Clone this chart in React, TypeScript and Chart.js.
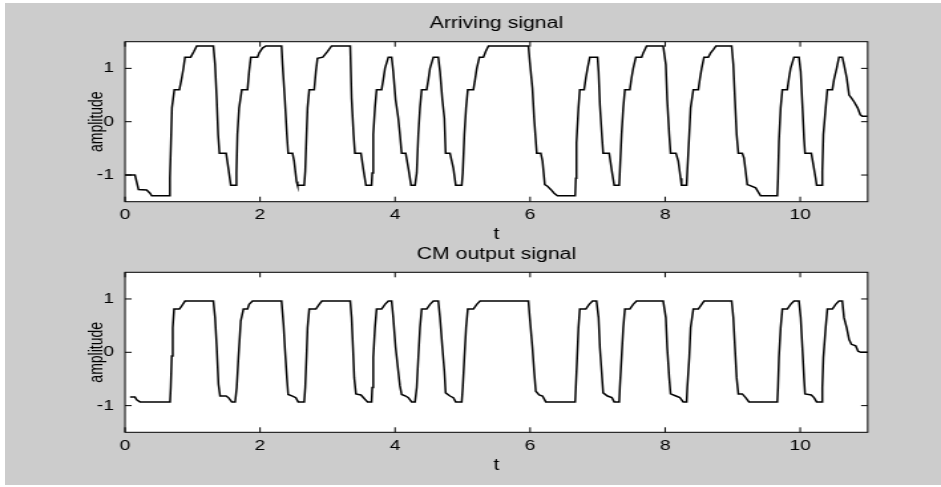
import React, { useEffect, useRef } from "react";
import { Chart, registerables } from "chart.js";

Chart.register(...registerables);

// ---------- data ----------
const ARRIVING_T = [
  0, 0.148, 0.2, 0.32, 0.37, 0.395, 0.657, 0.665, 0.68, 0.695, 0.73, 0.805, 0.84, 0.865, 0.889, 0.973, 1.022, 1.062,
  1.309, 1.334, 1.359, 1.379, 1.399, 1.497, 1.53, 1.566, 1.641, 1.651, 1.665, 1.69, 1.73, 1.814, 1.838, 1.863, 1.962,
  1.987, 2.036, 2.086, 2.318, 2.333, 2.367, 2.397, 2.416, 2.481, 2.505, 2.54, 2.555, 2.654, 2.669, 2.688, 2.703, 2.728,
  2.802, 2.827, 2.851, 2.93, 3.0, 3.059, 3.336, 3.356, 3.385, 3.405, 3.494, 3.534, 3.568, 3.652, 3.662, 3.677, 3.702,
  3.726, 3.8, 3.825, 3.85, 3.9, 3.949, 3.973, 4.008, 4.047, 4.072, 4.097, 4.157, 4.196, 4.236, 4.295, 4.32, 4.344,
  4.369, 4.394, 4.468, 4.493, 4.517, 4.567, 4.64, 4.665, 4.7, 4.73, 4.749, 4.813, 4.863, 4.898, 4.987, 5.002, 5.026,
  5.051, 5.076, 5.16, 5.185, 5.21, 5.249, 5.308, 5.343, 5.383, 5.975, 5.995, 6.034, 6.059, 6.098, 6.158, 6.183, 6.217,
  6.257, 6.306, 6.356, 6.405, 6.667, 6.677, 6.687, 6.716, 6.736, 6.8, 6.825, 6.85, 6.884, 6.998, 7.013, 7.033, 7.062,
  7.082, 7.171, 7.211, 7.245, 7.319, 7.329, 7.354, 7.379, 7.403, 7.477, 7.502, 7.527, 7.566, 7.651, 7.675, 7.725,
  7.971, 8.01, 8.03, 8.06, 8.08, 8.159, 8.194, 8.229, 8.243, 8.318, 8.328, 8.357, 8.377, 8.417, 8.491, 8.516, 8.54,
  8.575, 8.639, 8.674, 8.714, 8.753, 8.985, 9.01, 9.034, 9.059, 9.084, 9.142, 9.167, 9.192, 9.216, 9.241, 9.34, 9.389,
  9.414, 9.661, 9.671, 9.685, 9.71, 9.735, 9.809, 9.834, 9.858, 9.908, 9.982, 10.007, 10.032, 10.056, 10.071, 10.165,
  10.195, 10.229, 10.244, 10.318, 10.328, 10.343, 10.377, 10.402, 10.476, 10.5, 10.54, 10.575, 10.624, 10.649, 10.689,
  10.724, 10.76, 10.8, 10.85, 10.89, 10.92, 11,
];
const ARRIVING_A = [
  -1.0, -1.0, -1.27, -1.28, -1.34, -1.39, -1.39, -1.05, -0.4, 0.26, 0.6, 0.6, 0.82, 1.0, 1.21, 1.21, 1.32, 1.42,
  1.42, 1.07, 0.41, -0.24, -0.59, -0.59, -0.87, -1.19, -1.19, -0.96, -0.24, 0.26, 0.6, 0.6, 0.94, 1.21, 1.21,
  1.29, 1.38, 1.42, 1.42, 1.07, 0.41, -0.24, -0.59, -0.59, -0.74, -1.12, -1.19, -1.19, -0.93, -0.24, 0.26, 0.6,
  0.6, 0.94, 1.19, 1.21, 1.32, 1.42, 1.42, 0.44, -0.24, -0.59, -0.59, -0.93, -1.19, -1.19, -0.96, -0.24, 0.26,
  0.6, 0.6, 0.79, 1.0, 1.21, 1.21, 0.94, 0.41, 0.07, -0.24, -0.59, -0.59, -0.87, -1.19, -1.19, -0.96, -0.24,
  0.26, 0.6, 0.6, 0.79, 1.0, 1.21, 1.21, 0.94, 0.41, 0.07, -0.59, -0.59, -0.87, -1.19, -1.19, -0.96, -0.24,
  0.26, 0.6, 0.6, 0.79, 1.0, 1.21, 1.21, 1.32, 1.42, 1.42, 1.13, 0.63, 0.07, -0.59, -0.59, -0.74, -1.18,
  -1.21, -1.27, -1.34, -1.39, -1.39, -1.06, -0.4, 0.26, 0.6, 0.6, 0.82, 1.0, 1.21, 1.21, 0.94, 0.32, -0.24,
  -0.59, -0.59, -0.93, -1.19, -1.19, -0.93, -0.24, 0.26, 0.6, 0.6, 0.82, 1.0, 1.21, 1.21, 1.29, 1.42,
  1.42, 1.07, 0.41, -0.24, -0.59, -0.59, -0.74, -1.06, -1.19, -1.19, -0.93, -0.24, 0.26, 0.6, 0.6, 0.82, 1.0,
  1.21, 1.21, 1.29, 1.35, 1.42, 1.42, 1.07, 0.41, -0.24, -0.59, -0.59, -0.68, -0.93, -1.18, -1.19, -1.24, -1.34,
  -1.39, -1.39, -1.06, -0.37, 0.26, 0.6, 0.6, 0.82, 1.0, 1.21, 1.21, 0.94, 0.32, -0.31, -0.59, -0.59,
  -0.81, -1.06, -1.19, -1.19, -0.93, -0.24, 0.26, 0.6, 0.6, 0.79, 1.0, 1.21, 1.21, 1.07, 0.82,
  0.5, 0.44, 0.37, 0.26, 0.13, 0.1, 0.1,
];

const CM_T = [
  0.074, 0.148, 0.173, 0.222, 0.667, 0.677, 0.692, 0.707, 0.726, 0.805, 0.84, 0.889, 1.309, 1.334, 1.359, 1.384,
  1.408, 1.497, 1.532, 1.581, 1.631, 1.655, 1.68, 1.715, 1.754, 1.814, 1.838, 1.888, 2.318, 2.347, 2.367, 2.397,
  2.416, 2.481, 2.53, 2.565, 2.654, 2.669, 2.688, 2.703, 2.728, 2.827, 2.876, 2.916, 3.336, 3.356, 3.376, 3.395,
  3.42, 3.494, 3.553, 3.593, 3.652, 3.662, 3.677, 3.702, 3.726, 3.8, 3.85, 3.9, 3.949, 3.973, 4.008, 4.047, 4.072,
  4.097, 4.157, 4.196, 4.245, 4.295, 4.32, 4.344, 4.369, 4.394, 4.468, 4.517, 4.567, 4.64, 4.665, 4.7, 4.73, 4.749,
  4.813, 4.863, 4.898, 4.987, 5.002, 5.026, 5.051, 5.076, 5.16, 5.21, 5.259, 5.975, 5.995, 6.034, 6.059, 6.084,
  6.133, 6.183, 6.232, 6.667, 6.677, 6.697, 6.716, 6.736, 6.825, 6.874, 6.924, 6.983, 7.013, 7.033, 7.062, 7.082,
  7.146, 7.211, 7.245, 7.319, 7.329, 7.354, 7.379, 7.403, 7.477, 7.527, 7.576, 7.971, 8.01, 8.03, 8.06, 8.08,
  8.159, 8.218, 8.268, 8.318, 8.328, 8.357, 8.377, 8.417, 8.491, 8.54, 8.575, 8.985, 9.01, 9.034, 9.059, 9.084,
  9.142, 9.192, 9.241, 9.661, 9.671, 9.685, 9.71, 9.735, 9.809, 9.858, 9.908, 9.982, 10.007, 10.032, 10.056,
  10.071, 10.165, 10.205, 10.244, 10.318, 10.328, 10.343, 10.377, 10.402, 10.476, 10.525, 10.575, 10.624, 10.649,
  10.689, 10.724, 10.758, 10.822, 10.857, 10.897, 11,
];
const CM_A = [
  -0.84, -0.84, -0.89, -0.93, -0.93, -0.66, -0.07, 0.46, 0.81, 0.81, 0.87, 0.96, 0.96, 0.65, 0.09, -0.6,
  -0.82, -0.82, -0.85, -0.93, -0.93, -0.66, -0.1, 0.59, 0.81, 0.81, 0.9, 0.96, 0.96, 0.52, 0.09, -0.48,
  -0.79, -0.82, -0.85, -0.93, -0.93, -0.66, -0.07, 0.46, 0.81, 0.81, 0.9, 0.96, 0.96, 0.65, 0.09, -0.48,
  -0.78, -0.8, -0.88, -0.93, -0.93, -0.66, -0.1, 0.46, 0.81, 0.81, 0.9, 0.96, 0.96, 0.65, 0.09, -0.35, -0.63,
  -0.79, -0.82, -0.85, -0.93, -0.93, -0.66, -0.1, 0.46, 0.81, 0.81, 0.9, 0.96, 0.96, 0.65, 0.09, -0.35, -0.76,
  -0.82, -0.85, -0.93, -0.93, -0.66, -0.1, 0.46, 0.81, 0.81, 0.9, 0.96, 0.96, 0.65, 0.09, -0.35, -0.73,
  -0.8, -0.82, -0.93, -0.93, -0.66, -0.1, 0.46, 0.81, 0.81, 0.9, 0.96, 0.96, 0.65, 0.09, -0.41, -0.76,
  -0.82, -0.85, -0.93, -0.93, -0.66, -0.1, 0.46, 0.81, 0.81, 0.9, 0.96, 0.96, 0.65, 0.09, -0.48, -0.78,
  -0.82, -0.85, -0.93, -0.93, -0.66, -0.1, 0.46, 0.81, 0.81, 0.9, 0.96, 0.96, 0.65, 0.09, -0.48, -0.78,
  -0.78, -0.85, -0.93, -0.93, -0.66, -0.1, 0.46, 0.81, 0.81, 0.9, 0.96, 0.96, 0.65, 0.09, -0.48,
  -0.78, -0.8, -0.85, -0.93, -0.93, -0.66, -0.1, 0.46, 0.81, 0.81, 0.9, 0.96, 0.96, 0.65,
  0.46, 0.24, 0.15, 0.12, 0.02, 0.0, 0.0,
];

const X_TICKS = [0, 2, 4, 6, 8, 10];
const X_TICK_LABELS = ["0", "2", "4", "6", "8", "10"];
const Y_TICKS = [-1, 0, 1];
const Y_TICK_LABELS = ["-1", "0", "1"];
const X_MIN = 0;
const X_MAX = 11;
const Y_MIN = -1.5;
const Y_MAX = 1.5;

const TITLES = ["Arriving signal", "CM output signal"];
const X_LABEL = "t";
const Y_LABEL = "amplitude";

// ---------- layout (internal canvas units; canvas is stretched horizontally) ----------
const PAGE_W = 941;
const INT_W = 708;
const CANVAS_H = 246;
const FONT = "'Liberation Sans', Arial, Helvetica, sans-serif";
const TICK_LEN = 5;

const boxPlugin = {
  id: "matlabBox",
  beforeDraw(chart: any) {
    const { ctx, chartArea: a } = chart;
    ctx.save();
    ctx.fillStyle = "#ffffff";
    ctx.fillRect(a.left, a.top, a.right - a.left, a.bottom - a.top);
    ctx.restore();
  },
  afterDraw(chart: any) {
    const { ctx, chartArea: a, scales } = chart;
    const xs = scales.x;
    const ys = scales.y;
    ctx.save();
    ctx.strokeStyle = "#000";
    ctx.lineWidth = 1;
    ctx.strokeRect(a.left, a.top, a.right - a.left, a.bottom - a.top);
    ctx.beginPath();
    for (const v of X_TICKS) {
      const px = xs.getPixelForValue(v);
      ctx.moveTo(px, a.bottom);
      ctx.lineTo(px, a.bottom - TICK_LEN);
      ctx.moveTo(px, a.top);
      ctx.lineTo(px, a.top + TICK_LEN);
    }
    for (const v of Y_TICKS) {
      const py = ys.getPixelForValue(v);
      ctx.moveTo(a.left, py);
      ctx.lineTo(a.left + TICK_LEN, py);
      ctx.moveTo(a.right, py);
      ctx.lineTo(a.right - TICK_LEN, py);
    }
    ctx.stroke();
    ctx.restore();
  },
};

type PanelProps = {
  title: string;
  ts: number[];
  as: number[];
  top: number;
  titlePad: { top: number; bottom: number };
  xAxisH: number;
  xTitlePadBottom: number;
};

function Panel({ title, ts, as, top, titlePad, xAxisH, xTitlePadBottom }: PanelProps) {
  const ref = useRef<HTMLCanvasElement | null>(null);
  useEffect(() => {
    if (!ref.current) return;
    const chart = new Chart(ref.current, {
      type: "line",
      data: {
        datasets: [
          {
            data: ts.map((t, i) => ({ x: t, y: as[i] })),
            borderColor: "#000",
            borderWidth: 1.5,
            pointRadius: 0,
            tension: 0,
            fill: false,
          },
        ],
      },
      plugins: [boxPlugin],
      options: {
        responsive: false,
        animation: false,
        devicePixelRatio: 1,
        events: [],
        layout: { padding: { left: 0, right: 55.15, top: 0, bottom: 0 } },
        plugins: {
          legend: { display: false },
          tooltip: { enabled: false },
          title: {
            display: true,
            text: title,
            fullSize: false,
            color: "#000",
            font: { family: FONT, size: 16, weight: "normal" },
            padding: titlePad,
          },
        },
        scales: {
          x: {
            type: "linear",
            min: X_MIN,
            max: X_MAX,
            grid: { display: false, drawTicks: false },
            border: { display: false },
            afterBuildTicks: (s: any) => {
              s.ticks = X_TICKS.map((v) => ({ value: v }));
            },
            afterFit: (s: any) => {
              s.height = xAxisH;
            },
            ticks: {
              autoSkip: false,
              maxRotation: 0,
              padding: 4.6,
              color: "#000",
              font: { family: FONT, size: 14.5 },
              callback: (v: any) => X_TICK_LABELS[X_TICKS.indexOf(Number(v))] ?? "",
            },
            title: {
              display: true,
              text: X_LABEL,
              color: "#000",
              font: { family: FONT, size: 16 },
              padding: { top: 0, bottom: xTitlePadBottom },
            },
          },
          y: {
            type: "linear",
            min: Y_MIN,
            max: Y_MAX,
            grid: { display: false, drawTicks: false },
            border: { display: false },
            afterBuildTicks: (s: any) => {
              s.ticks = Y_TICKS.map((v) => ({ value: v }));
            },
            afterFit: (s: any) => {
              s.width = 94.05;
            },
            ticks: {
              padding: 8.3,
              color: "#000",
              font: { family: FONT, size: 14.5 },
              callback: (v: any) => Y_TICK_LABELS[Y_TICKS.indexOf(Number(v))] ?? "",
            },
            title: {
              display: true,
              text: Y_LABEL,
              color: "#000",
              font: { family: FONT, size: 14 },
              padding: { top: 64.5, bottom: 0 },
            },
          },
        },
      } as any,
    });
    return () => chart.destroy();
  }, []);
  return (
    <canvas
      ref={ref}
      width={INT_W}
      height={CANVAS_H}
      style={{
        position: "absolute",
        left: 0,
        top,
        width: PAGE_W + "px",
        height: CANVAS_H + "px",
      }}
    />
  );
}

export default function App() {
  return (
    <div
      style={{
        position: "absolute",
        left: 0,
        top: 0,
        width: PAGE_W,
        height: 487,
        background: "#ffffff",
        overflow: "hidden",
      }}
    >
      <div
        style={{
          position: "absolute",
          left: 5,
          top: 3,
          width: 936,
          height: 482,
          background: "#cccccc",
        }}
      />
      <Panel
        title={TITLES[0]}
        ts={ARRIVING_T}
        as={ARRIVING_A}
        top={0}
        titlePad={{ top: 14.2, bottom: 8.3 }}
        xAxisH={44.3}
        xTitlePadBottom={1.7}
      />
      <Panel
        title={TITLES[1]}
        ts={CM_T}
        as={CM_A}
        top={240}
        titlePad={{ top: 5.4, bottom: 7.7 }}
        xAxisH={53.7}
        xTitlePadBottom={10.4}
      />
    </div>
  );
}
